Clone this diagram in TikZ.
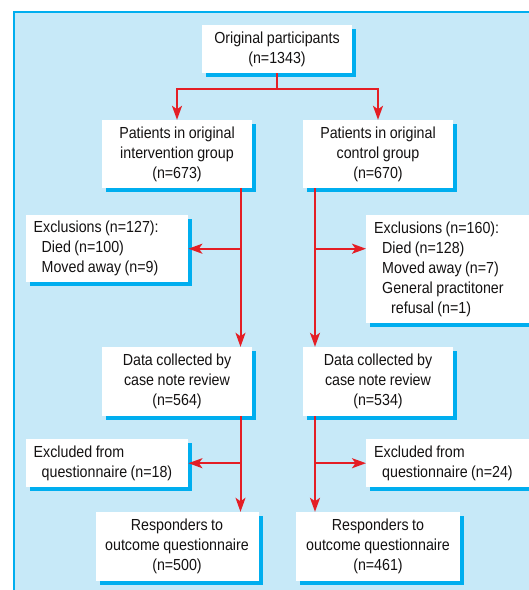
\documentclass[tikz,border=0pt]{standalone}
\usepackage{fontspec}
\setmainfont{Liberation Sans}[FakeStretch=0.89]
\usetikzlibrary{arrows.meta,shadows,calc}
\definecolor{bgblue}{RGB}{199,233,248}
\definecolor{cyanline}{RGB}{0,174,239}
\definecolor{arrred}{RGB}{228,30,37}
\definecolor{txt}{RGB}{20,18,18}
\tikzset{
  box/.style={fill=white, draw=none, inner sep=0pt, text=txt,
    font=\fontsize{16pt}{20pt}\selectfont,
    execute at begin node={\spaceskip=3.5pt plus 1pt minus 0.5pt\relax},
    general shadow={fill=cyanline, shadow xshift=4pt, shadow yshift=-4pt}},
  cbox/.style={box, align=center},
  lbox/.style={box, align=left, anchor=north west},
  arr/.style={draw=arrred, line width=2pt, -{Stealth[length=14pt,width=10pt,inset=3.5pt]}},
  ln/.style={draw=arrred, line width=2pt}
}
\begin{document}
\begin{tikzpicture}[x=1pt,y=-1pt]
\useasboundingbox (0,0) rectangle (529,590);
\clip (0,0) rectangle (529,590);
\fill[bgblue] (14,12) rectangle (540,600);
\draw[cyanline, line width=1.4pt] (14,600) -- (14,12) -- (540,12);

\node[cbox, minimum width=150pt, minimum height=48pt] (orig) at (277,49) {Original participants\\(n=1343)};
\node[cbox, minimum width=150pt, minimum height=68pt] (interv) at (177,154) {Patients in original\\intervention group\\(n=673)};
\node[cbox, minimum width=150pt, minimum height=68pt] (ctrl) at (378,154) {Patients in original\\control group\\(n=670)};

\node[lbox, minimum width=162pt, minimum height=67pt, text width=147pt, inner xsep=7.5pt] (exl) at (26,215)
  {Exclusions (n=127):\\\hspace*{8pt}Died (n=100)\\\hspace*{8pt}Moved away (n=9)};
\node[lbox, minimum width=174pt, minimum height=108pt, text width=159pt, inner xsep=8pt] (exr) at (366,215)
  {Exclusions (n=160):\\\hspace*{8pt}Died (n=128)\\\hspace*{8pt}Moved away (n=7)\\\hspace*{8pt}General practitoner\\\hspace*{17pt}refusal (n=1)};

\node[cbox, minimum width=150pt, minimum height=69pt] (datal) at (177,381.5) {Data collected by\\case note review\\(n=564)};
\node[cbox, minimum width=150pt, minimum height=69pt] (datar) at (378,381.5) {Data collected by\\case note review\\(n=534)};

\node[lbox, minimum width=162pt, minimum height=48pt, text width=147pt, inner xsep=7.5pt] (qxl) at (26,439)
  {Excluded from\\\hspace*{8pt}questionnaire (n=18)};
\node[lbox, minimum width=174pt, minimum height=48pt, text width=159pt, inner xsep=8pt] (qxr) at (366,439)
  {Excluded from\\\hspace*{8pt}questionnaire (n=24)};

\node[cbox, minimum width=163pt, minimum height=69pt] (respl) at (177,546.5) {Responders to\\outcome questionnaire\\(n=500)};
\node[cbox, minimum width=164pt, minimum height=69pt] (respr) at (378,546.5) {Responders to\\outcome questionnaire\\(n=461)};

\coordinate (split) at (277,89);
\coordinate (lx) at (240.5,0);
\coordinate (rx) at (315,0);

\draw[ln] (orig.south) -- (split);
\draw[arr] (split) -| (interv.north);
\draw[arr] (split) -| (ctrl.north);

\draw[arr] (interv.south -| lx) -- (datal.north -| lx);
\draw[arr] (ctrl.south -| rx) -- (datar.north -| rx);
\draw[arr] (exl.east -| lx) -- (exl.east);
\draw[arr] (exl.east -| rx) -- (exr.west |- exl.east);

\draw[arr] (datal.south -| lx) -- (respl.north -| lx);
\draw[arr] (datar.south -| rx) -- (respr.north -| rx);
\draw[arr] (qxl.east -| lx) -- (qxl.east);
\draw[arr] (qxr.west -| rx) -- (qxr.west);
\end{tikzpicture}
\end{document}
